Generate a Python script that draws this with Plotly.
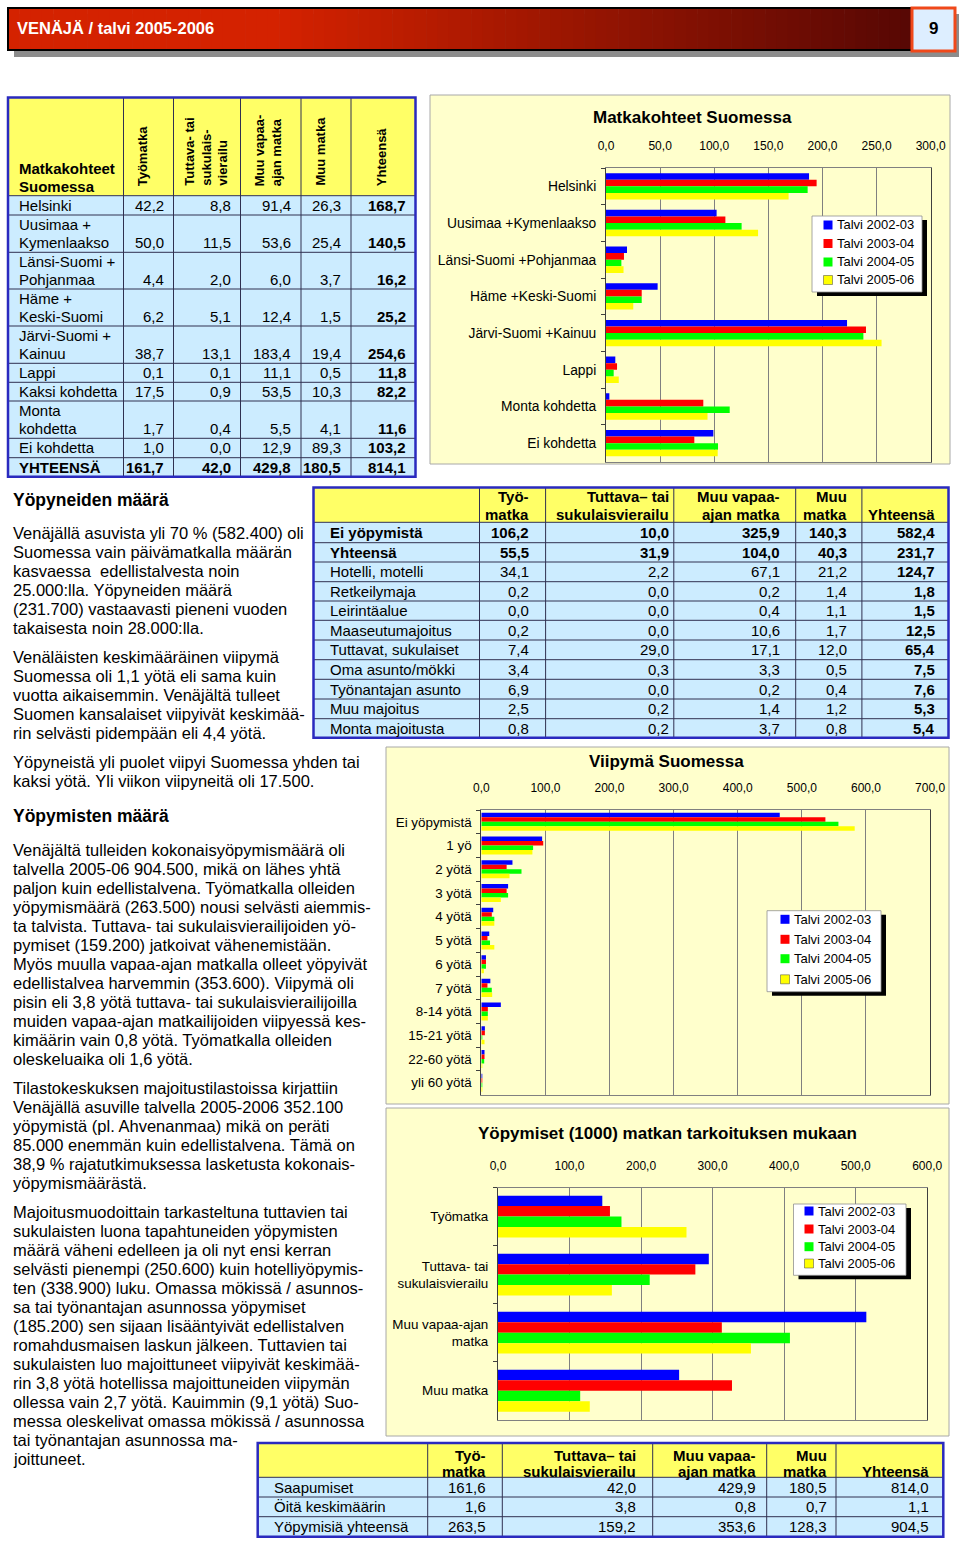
import plotly.graph_objects as go

W, H = 960, 1544
FONT = "Liberation Sans, Arial, sans-serif"

# ---------------- data ----------------
seasons = ["Talvi 2002-03", "Talvi 2003-04", "Talvi 2004-05", "Talvi 2005-06"]
season_colors = ["#0000FF", "#FF0000", "#00FF00", "#FFFF00"]

c1_title = "Matkakohteet Suomessa"
c1_cats = ["Helsinki", "Uusimaa +Kymenlaakso", "Länsi-Suomi +Pohjanmaa", "Häme +Keski-Suomi",
           "Järvi-Suomi +Kainuu", "Lappi", "Monta kohdetta", "Ei kohdetta"]
c1_2002 = [187.6, 102.2, 19.4, 47.7, 222.7, 8.6, 3.1, 99.2]
c1_2003 = [194.6, 110.3, 16.6, 33.0, 240.2, 10.2, 89.9, 81.6]
c1_2004 = [186.3, 125.3, 14.2, 33.0, 237.8, 7.1, 114.3, 103.5]
c1_2005 = [168.7, 140.5, 16.2, 25.2, 254.6, 11.8, 93.8, 103.2]
c1_ticks = [0, 50, 100, 150, 200, 250, 300]

c2_title = "Viipymä Suomessa"
c2_cats = ["Ei yöpymistä", "1 yö", "2 yötä", "3 yötä", "4 yötä", "5 yötä", "6 yötä", "7 yötä",
           "8-14 yötä", "15-21 yötä", "22-60 yötä", "yli 60 yötä"]
c2_2002 = [465.5, 94.9, 48.6, 41.8, 18.6, 12.4, 7.3, 14.1, 30.5, 5.6, 5.0, 0.3]
c2_2003 = [536.7, 96.6, 39.5, 39.5, 16.4, 9.6, 7.3, 9.6, 10.2, 5.6, 5.0, 0.2]
c2_2004 = [557.0, 80.8, 62.7, 41.8, 20.3, 13.6, 7.3, 16.4, 10.2, 1.0, 4.5, 0.2]
c2_2005 = [582.4, 79.7, 44.0, 30.5, 20.3, 20.3, 4.0, 17.0, 10.2, 5.0, 1.0, 0.3]
c2_ticks = [0, 100, 200, 300, 400, 500, 600, 700]

c3_title = "Yöpymiset (1000) matkan tarkoituksen mukaan"
c3_cats = ["Työmatka", "Tuttava- tai<br>sukulaisvierailu", "Muu vapaa-ajan<br>matka", "Muu matka"]
c3_2002 = [145.8, 294.7, 514.9, 253.2]
c3_2003 = [156.5, 275.9, 312.9, 327.1]
c3_2004 = [172.6, 212.1, 408.1, 114.9]
c3_2005 = [263.5, 159.2, 353.6, 128.3]
c3_ticks = [0, 100, 200, 300, 400, 500, 600]

# table 1
t1_corner = ["Matkakohteet", "Suomessa"]
t1_headers = [["Työmatka"], ["Tuttava- tai", "sukulais-", "vierailu"], ["Muu vapaa-", "ajan matka"],
              ["Muu matka"], ["Yhteensä"]]
t1_rows = ["Helsinki", "Uusimaa +\nKymenlaakso", "Länsi-Suomi +\nPohjanmaa", "Häme +\nKeski-Suomi",
           "Järvi-Suomi +\nKainuu", "Lappi", "Kaksi kohdetta", "Monta\nkohdetta", "Ei kohdetta", "YHTEENSÄ"]
t1_tyo = [42.2, 50.0, 4.4, 6.2, 38.7, 0.1, 17.5, 1.7, 1.0, 161.7]
t1_tuttava = [8.8, 11.5, 2.0, 5.1, 13.1, 0.1, 0.9, 0.4, 0.0, 42.0]
t1_muuvapaa = [91.4, 53.6, 6.0, 12.4, 183.4, 11.1, 53.5, 5.5, 12.9, 429.8]
t1_muumatka = [26.3, 25.4, 3.7, 1.5, 19.4, 0.5, 10.3, 4.1, 89.3, 180.5]
t1_yht = [168.7, 140.5, 16.2, 25.2, 254.6, 11.8, 82.2, 11.6, 103.2, 814.1]

# table 2
t2_headers = [["Työ-", "matka"], ["Tuttava– tai", "sukulaisvierailu"], ["Muu vapaa-", "ajan matka"],
              ["Muu", "matka"], ["", "Yhteensä"]]
t2_rows = ["Ei yöpymistä", "Yhteensä", "Hotelli, motelli", "Retkeilymaja", "Leirintäalue", "Maaseutumajoitus",
           "Tuttavat, sukulaiset", "Oma asunto/mökki", "Työnantajan asunto", "Muu majoitus", "Monta majoitusta"]
t2_tyo = [106.2, 55.5, 34.1, 0.2, 0.0, 0.2, 7.4, 3.4, 6.9, 2.5, 0.8]
t2_tuttava = [10.0, 31.9, 2.2, 0.0, 0.0, 0.0, 29.0, 0.3, 0.0, 0.2, 0.2]
t2_muuvapaa = [325.9, 104.0, 67.1, 0.2, 0.4, 10.6, 17.1, 3.3, 0.2, 1.4, 3.7]
t2_muumatka = [140.3, 40.3, 21.2, 1.4, 1.1, 1.7, 12.0, 0.5, 0.4, 1.2, 0.8]
t2_yht = [582.4, 231.7, 124.7, 1.8, 1.5, 12.5, 65.4, 7.5, 7.6, 5.3, 5.4]

# table 3
t3_headers = t2_headers
t3_rows = ["Saapumiset", "Öitä keskimäärin", "Yöpymisiä yhteensä"]
t3_tyo = [161.6, 1.6, 263.5]
t3_tuttava = [42.0, 3.8, 159.2]
t3_muuvapaa = [429.9, 0.8, 353.6]
t3_muumatka = [180.5, 0.7, 128.3]
t3_yht = [814.0, 1.1, 904.5]

header_title = "VENÄJÄ / talvi 2005-2006"
page_no = "9"

heading1 = "Yöpyneiden määrä"
para1 = ["Venäjällä asuvista yli 70 % (582.400) oli",
         "Suomessa vain päivämatkalla määrän",
         "kasvaessa  edellistalvesta noin",
         "25.000:lla. Yöpyneiden määrä",
         "(231.700) vastaavasti pieneni vuoden",
         "takaisesta noin 28.000:lla."]
para2 = ["Venäläisten keskimääräinen viipymä",
         "Suomessa oli 1,1 yötä eli sama kuin",
         "vuotta aikaisemmin. Venäjältä tulleet",
         "Suomen kansalaiset viipyivät keskimää-",
         "rin selvästi pidempään eli 4,4 yötä."]
para3 = ["Yöpyneistä yli puolet viipyi Suomessa yhden tai",
         "kaksi yötä. Yli viikon viipyneitä oli 17.500."]
heading2 = "Yöpymisten määrä"
para4 = ["Venäjältä tulleiden kokonaisyöpymismäärä oli",
         "talvella 2005-06 904.500, mikä on lähes yhtä",
         "paljon kuin edellistalvena. Työmatkalla olleiden",
         "yöpymismäärä (263.500) nousi selvästi aiemmis-",
         "ta talvista. Tuttava- tai sukulaisvierailijoiden yö-",
         "pymiset (159.200) jatkoivat vähenemistään.",
         "Myös muulla vapaa-ajan matkalla olleet yöpyivät",
         "edellistalvea harvemmin (353.600). Viipymä oli",
         "pisin eli 3,8 yötä tuttava- tai sukulaisvierailijoilla",
         "muiden vapaa-ajan matkailijoiden viipyessä kes-",
         "kimäärin vain 0,8 yötä. Työmatkalla olleiden",
         "oleskeluaika oli 1,6 yötä."]
para5 = ["Tilastokeskuksen majoitustilastoissa kirjattiin",
         "Venäjällä asuville talvella 2005-2006 352.100",
         "yöpymistä (pl. Ahvenanmaa) mikä on peräti",
         "85.000 enemmän kuin edellistalvena. Tämä on",
         "38,9 % rajatutkimuksessa lasketusta kokonais-",
         "yöpymismäärästä."]
para6 = ["Majoitusmuodoittain tarkasteltuna tuttavien tai",
         "sukulaisten luona tapahtuneiden yöpymisten",
         "määrä väheni edelleen ja oli nyt ensi kerran",
         "selvästi pienempi (250.600) kuin hotelliyöpymis-",
         "ten (338.900) luku. Omassa mökissä / asunnos-",
         "sa tai työnantajan asunnossa yöpymiset",
         "(185.200) sen sijaan lisääntyivät edellistalven",
         "romahdusmaisen laskun jälkeen. Tuttavien tai",
         "sukulaisten luo majoittuneet viipyivät keskimää-",
         "rin 3,8 yötä hotellissa majoittuneiden viipymän",
         "ollessa vain 2,7 yötä. Kauimmin (9,1 yötä) Suo-",
         "messa oleskelivat omassa mökissä / asunnossa",
         "tai työnantajan asunnossa ma-",
         "joittuneet."]

# ---------------- helpers ----------------
shapes = []
annotations = []


def px(x):
    return x / W


def py(y):
    return 1 - y / H


def rect(x0, y0, x1, y1, fill, lc=None, lw=0, layer="below"):
    shapes.append(dict(type="rect", xref="paper", yref="paper", x0=px(x0), x1=px(x1), y0=py(y1), y1=py(y0),
                       fillcolor=fill, line=dict(color=lc or "rgba(0,0,0,0)", width=lw), layer=layer))


def seg(x0, y0, x1, y1, color, w, layer="below"):
    shapes.append(dict(type="line", xref="paper", yref="paper", x0=px(x0), x1=px(x1), y0=py(y0), y1=py(y1),
                       line=dict(color=color, width=w), layer=layer))


def text(x, y, s, size, bold=False, color="black", xanchor="left", yanchor="middle", angle=0, align="left"):
    annotations.append(dict(xref="paper", yref="paper", x=px(x), y=py(y), text=f"<b>{s}</b>" if bold else s,
                            showarrow=False, xanchor=xanchor, yanchor=yanchor, align=align, textangle=angle,
                            borderpad=0, font=dict(size=size, color=color, family=FONT)))


def fmt(v):
    return f"{v:.1f}".replace(".", ",")


# ---------------- page header ----------------
rect(14, 14, 959, 57, "#8C8C8C")
n = 80
x0b, x1b = 8, 912
for i in range(n):
    t = i / (n - 1)
    k = max(0.0, (t - 0.3) / 0.7)
    r = int(212 + (88 - 212) * k)
    g = int(34 + (8 - 34) * k)
    b = int(0 + (4 - 0) * k)
    xa = x0b + (x1b - x0b) * i / n
    xb = x0b + (x1b - x0b) * (i + 1) / n + 0.6
    rect(xa, 8, xb, 50, f"rgb({r},{g},{b})")
rect(8, 8, 912, 50, "rgba(0,0,0,0)", "#000000", 2)
rect(912, 8, 955, 51, "#DDEEFF", "#F0481A", 3)
text(16, 28, header_title, 16.5, bold=True, color="white")
text(933.5, 29, page_no, 17, bold=True, xanchor="center")

# ---------------- tables ----------------
HEAD_Y = "#FFFF66"
BODY_B = "#CCECFF"
BORDER = "#2A2ABF"
INNER = "#303050"


def draw_grid(cols, top, edges):
    rect(cols[0], top, cols[-1], edges[0], HEAD_Y)
    rect(cols[0], edges[0], cols[-1], edges[-1], BODY_B)
    for yy in edges[:-1]:
        seg(cols[0], yy, cols[-1], yy, INNER, 1)
    for xx in cols[1:-1]:
        seg(xx, top, xx, edges[-1], INNER, 1)
    rect(cols[0], top, cols[-1], edges[-1], "rgba(0,0,0,0)", BORDER, 2.5)


t1_cols = [8, 123.5, 173.5, 240.5, 301, 351, 415.5]
t1_top = 97.5
t1_edges = [195.7, 215, 252.3, 289, 326, 363.3, 382.3, 401, 438.3, 457.7, 476.7]
draw_grid(t1_cols, t1_top, t1_edges)
text(17.5, 169, t1_corner[0], 15, bold=True)
text(17.5, 187, t1_corner[1], 15, bold=True)
t1_head_x = [143.3, 206.7, 268.3, 320, 381.7]
for hx, lines in zip(t1_head_x, t1_headers):
    text(hx, 187, "<br>".join(lines), 13, bold=True, xanchor="center", yanchor="bottom", angle=-90, align="left")
t1_vals = [t1_tyo, t1_tuttava, t1_muuvapaa, t1_muumatka, t1_yht]
for r, label in enumerate(t1_rows):
    top, bot = t1_edges[r], t1_edges[r + 1]
    lines = label.split("\n")
    last = len(t1_rows) - 1
    if len(lines) == 2:
        text(17.5, top + 9.4, lines[0], 15)
        text(17.5, bot - 9.6, lines[1], 15)
        vy = bot - 9.6
    else:
        vy = (top + bot) / 2
        text(17.5, vy, lines[0], 15, bold=(r == last))
    for c, series in enumerate(t1_vals):
        text(t1_cols[c + 2] - 9, vy, fmt(series[r]), 15, bold=(r == last or c == 4), xanchor="right")

t2_cols = [313.5, 479.5, 545.6, 673.8, 795.7, 861.9, 948.5]
t2_top = 487.5
t2_edges = [522.3, 542.7, 562, 581.7, 601, 620.3, 640, 659.7, 679.3, 699, 718.7, 737.7]
t2_right = [530, 669.6, 781, 848, 936]
draw_grid(t2_cols, t2_top, t2_edges)
for rx, lines in zip(t2_right, t2_headers):
    if lines[0]:
        text(rx, 496.7, lines[0], 15, bold=True, xanchor="right")
    text(rx, 514.3, lines[1], 15, bold=True, xanchor="right")
t2_vals = [t2_tyo, t2_tuttava, t2_muuvapaa, t2_muumatka, t2_yht]
for r, label in enumerate(t2_rows):
    vy = (t2_edges[r] + t2_edges[r + 1]) / 2
    text(328.5, vy, label, 15, bold=(r < 2))
    for c, series in enumerate(t2_vals):
        text(t2_right[c], vy, fmt(series[r]), 15, bold=(r < 2 or c == 4), xanchor="right")

t3_cols = [257.7, 427.7, 502.3, 652.7, 766.7, 836, 943.3]
t3_top = 1443
t3_edges = [1477.3, 1497, 1516.7, 1536.7]
t3_right = [487.3, 637.3, 756.7, 828.3, 930]
draw_grid(t3_cols, t3_top, t3_edges)
for rx, lines in zip(t3_right, t3_headers):
    if lines[0]:
        text(rx, 1455, lines[0], 15, bold=True, xanchor="right")
    text(rx, 1471.7, lines[1], 15, bold=True, xanchor="right")
t3_vals = [t3_tyo, t3_tuttava, t3_muuvapaa, t3_muumatka, t3_yht]
for r, label in enumerate(t3_rows):
    vy = (t3_edges[r] + t3_edges[r + 1]) / 2
    text(273.3, vy, label, 15)
    for c, series in enumerate(t3_vals):
        text(t3_right[c], vy, fmt(series[r]), 15, xanchor="right")

# ---------------- body text ----------------
BODY = 16.5
text(12, 500, heading1, 17.5, bold=True)
for i, s in enumerate(para1):
    text(12, 533 + 19 * i, s, BODY)
for i, s in enumerate(para2):
    text(12, 657 + 19 * i, s, BODY)
for i, s in enumerate(para3):
    text(12, 762 + 19 * i, s, BODY)
text(12, 816, heading2, 17.5, bold=True)
for i, s in enumerate(para4):
    text(12, 850 + 19 * i, s, BODY)
for i, s in enumerate(para5):
    text(12, 1088 + 19 * i, s, BODY)
for i, s in enumerate(para6):
    text(12, 1212 + 19 * i, s, BODY)

# ---------------- charts ----------------
CREAM = "#FFFFCC"
rect(430, 95, 950, 464, CREAM, "#A8A8A8", 1)
rect(386, 747, 949, 1104, CREAM, "#A8A8A8", 1)
rect(386, 1108, 949, 1436, CREAM, "#A8A8A8", 1)
text(692, 117, c1_title, 17, bold=True, xanchor="center")
text(666, 761, c2_title, 17, bold=True, xanchor="center")
text(667, 1133, c3_title, 17, bold=True, xanchor="center")

fig = go.Figure()
charts = [
    (c1_cats, [c1_2002, c1_2003, c1_2004, c1_2005], "x", "y", 0.18),
    (c2_cats, [c2_2002, c2_2003, c2_2004, c2_2005], "x2", "y2", 0.19),
    (c3_cats, [c3_2002, c3_2003, c3_2004, c3_2005], "x3", "y3", 0.18),
]
for cats, series, xa, ya, w in charts:
    for s, vals in enumerate(series):
        fig.add_trace(go.Bar(x=vals, y=cats, orientation="h", name=seasons[s],
                             marker=dict(color=season_colors[s], line=dict(width=0)),
                             width=w, offset=-2 * w + s * w, xaxis=xa, yaxis=ya, showlegend=False,
                             hoverinfo="skip"))


def xaxis_cfg(dom, rng, ticks, anchor):
    return dict(domain=[px(dom[0]), px(dom[1])], range=rng, tickvals=ticks, tickformat=".1f",
                side="top", anchor=anchor, showgrid=True, gridcolor="#808080", gridwidth=1,
                showline=True, mirror=True, linecolor="#808080", linewidth=1, zeroline=False,
                ticks="", ticklabelstandoff=12, tickfont=dict(size=12, family=FONT, color="black"),
                fixedrange=True, automargin=False)


def yaxis_cfg(dom, n, anchor, fs):
    return dict(domain=[py(dom[1]), py(dom[0])], type="category", range=[n - 0.5, -0.5], anchor=anchor,
                showgrid=False, showline=True, mirror=True, linecolor="#404040", linewidth=1,
                ticks="outside", tickson="boundaries", ticklen=4, tickcolor="#404040",
                ticklabelstandoff=6, tickfont=dict(size=fs, family=FONT, color="black"), fixedrange=True,
                automargin=False)


def legend(box, sq_x, txt_x, ys):
    x0, y0, x1, y1 = box
    rect(x0 + 5, y0 + 4, x1 + 5, y1 + 4, "#000000", layer="above")
    rect(x0, y0, x1, y1, "#FFFFFF", "#909090", 0.8, layer="above")
    for s, yy in enumerate(ys):
        rect(sq_x, yy - 4.5, sq_x + 9, yy + 4.5, season_colors[s], "#404040" if s == 3 else None,
             0.5 if s == 3 else 0, layer="above")
        text(txt_x, yy, seasons[s], 13)


legend((812, 216, 922, 292), 823.5, 835.5, [225, 243.5, 262, 280])
legend((767, 910.7, 881, 991.7), 780.5, 792.5, [919.3, 939.3, 958.7, 979.3])
legend((793.5, 1204, 906, 1275.3), 804.5, 816.5, [1211, 1229, 1246.7, 1263.5])

fig.update_layout(
    width=W, height=H, autosize=False,
    margin=dict(l=0, r=0, t=0, b=0, pad=0),
    paper_bgcolor="white", plot_bgcolor="#C0C0C0",
    separators=", ",
    barmode="overlay",
    showlegend=False,
    font=dict(family=FONT, color="black"),
    xaxis=xaxis_cfg((606, 930.7), [0, 300], c1_ticks, "y"),
    yaxis=yaxis_cfg((168, 461.5), len(c1_cats), "x", 13.8),
    xaxis2=xaxis_cfg((481.3, 930.1), [0, 700], c2_ticks, "y2"),
    yaxis2=yaxis_cfg((810, 1094.6), len(c2_cats), "x2", 13.4),
    xaxis3=xaxis_cfg((498, 927.2), [0, 600], c3_ticks, "y3"),
    yaxis3=yaxis_cfg((1187.5, 1419.8), len(c3_cats), "x3", 13.4),
    shapes=shapes,
    annotations=annotations,
)

fig.write_html("out.html", config={"displayModeBar": False},
               post_script="document.body.style.margin='0';document.body.style.overflow='hidden';"
                           "document.documentElement.style.overflow='hidden';")
